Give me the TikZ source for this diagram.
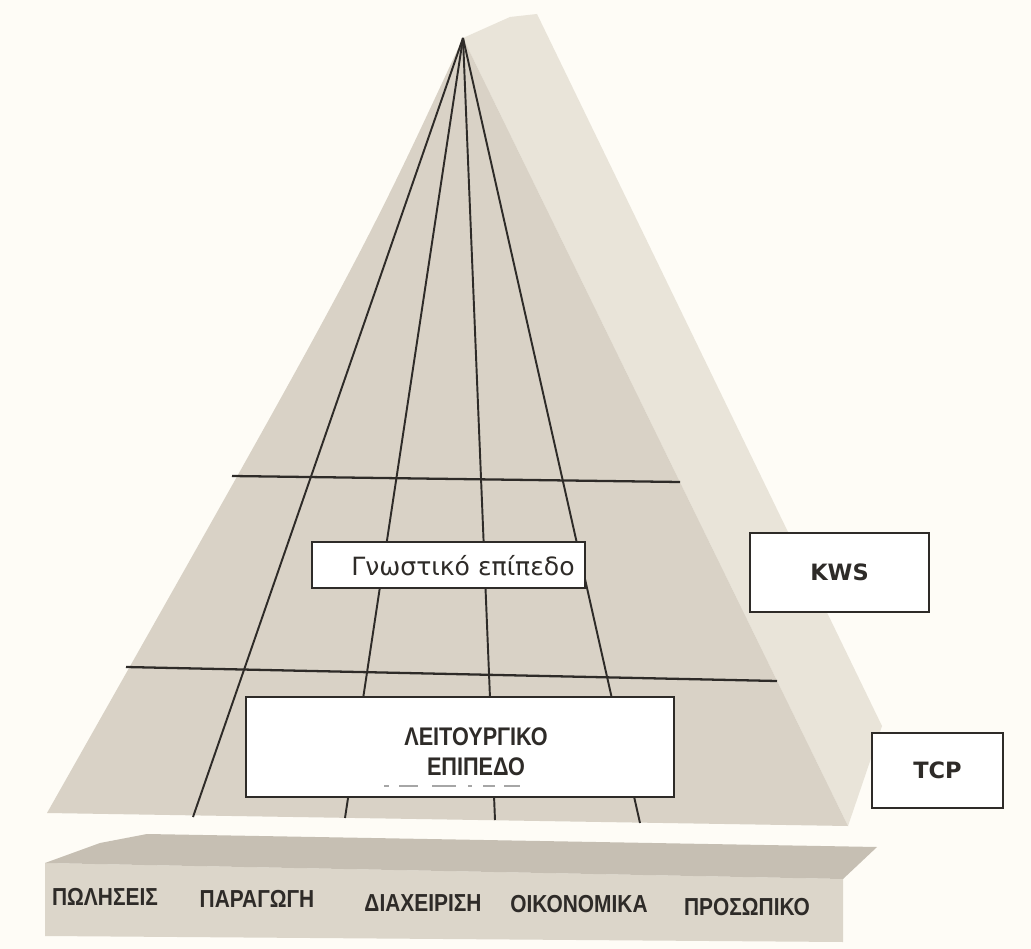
\documentclass[tikz,border=0pt]{standalone}
\usepackage{fontspec}
\setmainfont{DejaVu Sans}
\newfontfamily\condfont[FakeStretch=0.85]{Liberation Sans}
\usetikzlibrary{positioning}
\definecolor{paper}{HTML}{FEFCF6}
\definecolor{frontface}{HTML}{D9D2C6}
\definecolor{sideface}{HTML}{E9E4D9}
\definecolor{slabtop}{HTML}{C6BFB3}
\definecolor{slabfront}{HTML}{DCD6CA}
\definecolor{ink}{HTML}{2E2B28}

\begin{document}
\begin{tikzpicture}[x=0.02cm,y=-0.02cm,
  gridline/.style={ink, line width=1.1pt},
  levelbox/.style={draw=ink, line width=1.3pt, fill=white, inner sep=0pt},
  deptlabel/.style={font=\condfont\bfseries\fontsize{14}{16}\selectfont, text=ink},
  oplabel/.style={font=\condfont\bfseries\fontsize{14.5}{17}\selectfont, text=ink, align=center},
  syslabel/.style={font=\bfseries\fontsize{12.8}{15}\selectfont, text=ink}]
  \useasboundingbox (0,0) rectangle (1031,949);
  \fill[paper] (0,0) rectangle (1031,949);

  % pyramid
  \fill[sideface] (463,38) -- (510,17) -- (537,14) -- (882,726) -- (848,826) -- cycle;
  \fill[frontface] (463,38) .. controls (360,260) .. (47,813) -- (848,826) -- cycle;

  % base slab
  \fill[slabfront] (45,863) -- (843,879) -- (843,942) -- (45,936) -- cycle;
  \fill[slabtop] (45,863) -- (100,843) -- (147,834) -- (877,847) -- (843,879) -- cycle;

  \coordinate (apex) at (463,38);
  \foreach \name/\x/\y in {f1/193/817, f2/345/818, f3/495/820, f4/640/823}
    \coordinate (\name) at (\x,\y);
  \foreach \name in {f1,f2,f3,f4}
    \draw[gridline] (apex) -- (\name);

  \coordinate (h1l) at (232,476);
  \coordinate (h1r) at (680,482);
  \coordinate (h2l) at (126,667);
  \coordinate (h2r) at (777,681);
  \draw[gridline, line width=1.3pt] (h1l) -- (h1r);
  \draw[gridline, line width=1.3pt] (h2l) -- (h2r);

  % levels
  \node[levelbox, minimum width=5.46cm, minimum height=0.92cm] (gnostic) at (448.5,565) {};
  \node[font=\fontsize{14.3}{17}\selectfont, text=ink] (gnostictext) at (463,566) {Γνωστικό επίπεδο};
  \node[levelbox, minimum width=8.56cm, minimum height=2cm] (operational) at (460,747) {};
  \node[oplabel] (optext) at (476,752) {ΛΕΙΤΟΥΡΓΙΚΟ\\ΕΠΙΠΕΔΟ};
  \foreach \a/\b in {384/389, 399/418, 432/456, 468/472, 483/495, 504/520}
    \draw[gray!70, line width=0.6pt] (\a,786) -- (\b,786);

  \node[levelbox, minimum width=3.58cm, minimum height=1.58cm, syslabel] (kws) at (839.5,572.5) {KWS};
  \node[levelbox, minimum width=2.62cm, minimum height=1.5cm, syslabel] (tcp) at (937.5,770.5) {TCP};

  % departments
  \node[deptlabel] (sales) at (105,897) {ΠΩΛΗΣΕΙΣ};
  \node[deptlabel] (production) at (257,899) {ΠΑΡΑΓΩΓΗ};
  \node[deptlabel] (management) at (423,903) {ΔΙΑΧΕΙΡΙΣΗ};
  \node[deptlabel] (finance) at (579,904) {ΟΙΚΟΝΟΜΙΚΑ};
  \node[deptlabel] (personnel) at (747,907) {ΠΡΟΣΩΠΙΚΟ};
\end{tikzpicture}
\end{document}
